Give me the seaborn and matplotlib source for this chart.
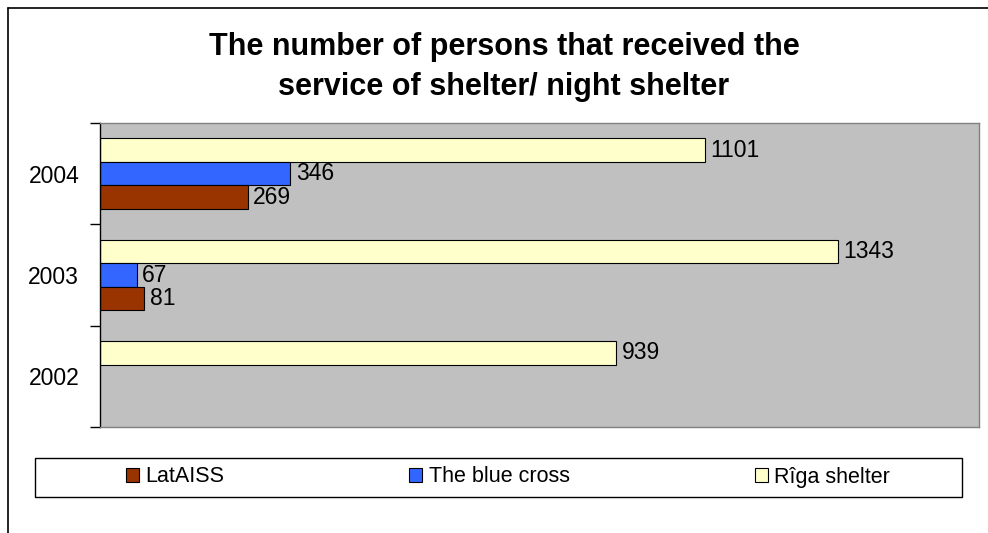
import matplotlib
matplotlib.use("Agg")
import matplotlib.pyplot as plt
from matplotlib.patches import Patch, Rectangle
from matplotlib.lines import Line2D
import seaborn as sns
import pandas as pd

sns.set_theme(style="white")
plt.rcParams['font.family'] = ['Liberation Sans', 'DejaVu Sans']
plt.rcParams.update({'text.color': 'black', 'ytick.color': 'black',
                     'xtick.color': 'black', 'axes.labelcolor': 'black'})

# Data
years = ["2004", "2003", "2002"]
series = ["Rîga shelter", "The blue cross", "LatAISS"]
riga = [1101, 1343, 939]
blue_cross = [346, 67, None]
lataiss = [269, 81, None]
colors = {"LatAISS": "#993300", "The blue cross": "#3366FF", "Rîga shelter": "#FFFFCC"}
legend_order = ["LatAISS", "The blue cross", "Rîga shelter"]

rows = []
for name, vals in zip(series, [riga, blue_cross, lataiss]):
    for y, v in zip(years, vals):
        if v is not None:
            rows.append({"year": y, "series": name, "value": v})
df = pd.DataFrame(rows)

fig = plt.figure(figsize=(9.88, 5.33), dpi=100)
ax = fig.add_axes([100 / 988, 1 - 427 / 533, 879 / 988, 304 / 533])
ax.set_facecolor("#C0C0C0")

sns.barplot(data=df, x="value", y="year", hue="series", order=years,
            hue_order=series, palette=colors, saturation=1, orient="h", width=0.7,
            edgecolor="black", linewidth=0.8, legend=False, ax=ax)

for c in ax.containers:
    ax.bar_label(c, fmt="%d", padding=4, fontsize=16.5, color="black")

ax.set_xlim(0, 1600)
ax.set_ylim(2.5, -0.5)
ax.set_xlabel("")
ax.set_ylabel("")
ax.set_xticks([])
ax.set_yticks([0, 1, 2])
ax.set_yticklabels(years, fontsize=16.5)
ax.set_yticks([-0.5, 0.5, 1.5, 2.5], minor=True)
ax.tick_params(axis="y", which="major", length=0, pad=15)
ax.tick_params(axis="y", which="minor", length=7, width=1, color="black", left=True)

for side in ["top", "right", "bottom"]:
    ax.spines[side].set_color("#808080")
    ax.spines[side].set_linewidth(1)
ax.spines["left"].set_color("black")
ax.spines["left"].set_linewidth(1)

fig.text(504 / 988, 1 - 67 / 533,
         "The number of persons that received the\nservice of shelter/ night shelter",
         ha="center", va="center", fontsize=22, fontweight="bold", linespacing=1.45)

# legend box
fig.patches.append(Rectangle((35 / 988, 1 - 497 / 533), 927 / 988, 39 / 533,
                             transform=fig.transFigure, facecolor="white",
                             edgecolor="black", linewidth=1))
handles = [Patch(facecolor=colors[n], edgecolor="black", linewidth=0.8) for n in legend_order]
fig.legend(handles, legend_order, loc="center", ncol=3, frameon=False,
           bbox_to_anchor=(508 / 988, 1 - 477 / 533), fontsize=15.5,
           handlelength=0.6, handleheight=0.6, handletextpad=0.3,
           columnspacing=8.6)

# outer border
fig.add_artist(Line2D([8 / 988, 8 / 988], [0, 1 - 8 / 533], color="black", linewidth=1.2,
                      transform=fig.transFigure))
fig.add_artist(Line2D([8 / 988, 1], [1 - 8 / 533, 1 - 8 / 533], color="black", linewidth=1.2,
                      transform=fig.transFigure))

fig.savefig("out.png", dpi=100)
